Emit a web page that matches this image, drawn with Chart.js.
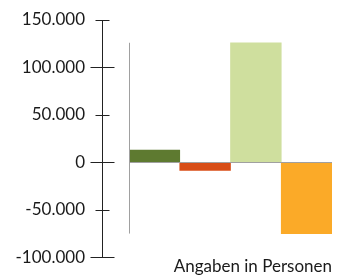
<!DOCTYPE html>
<html><head><meta charset="utf-8">
<script src="https://cdn.jsdelivr.net/npm/chart.js@4"></script>
<style>html,body{margin:0;padding:0;background:#fff}#w{width:338px;height:277px}</style>
</head><body><div id="w"><canvas id="c"></canvas></div>
<script>
const categories = ["A", "B", "C", "D"];
const values = [13000, -8500, 126000, -75000];
const barColors = ["#5e7a30", "#d84d16", "#cfdf9e", "#fbaa28"];
const yTicks = [-100000, -50000, 0, 50000, 100000, 150000];
const unitLabel = "Angaben in Personen";

const fmt = v => (v < 0 ? "-" : "") + String(Math.abs(v)).replace(/\B(?=(\d{3})+(?!\d))/g, ".");

const axisPlugin = {
  id: "axisPlugin",
  afterDatasetsDraw(chart) {
    const ctx = chart.ctx, y = chart.scales.y, a = chart.chartArea;
    ctx.save();
    ctx.strokeStyle = "#a0a0a0"; ctx.lineWidth = 1;
    const y0 = Math.round(y.getPixelForValue(0)) + 0.5;
    ctx.beginPath(); ctx.moveTo(a.left, y0); ctx.lineTo(a.right, y0); ctx.stroke();
    const xl = Math.round(a.left) + 0.5;
    ctx.beginPath();
    ctx.moveTo(xl, y.getPixelForValue(Math.max(...values)));
    ctx.lineTo(xl, y.getPixelForValue(Math.min(...values)));
    ctx.stroke();
    const ax = 102.5;
    ctx.strokeStyle = "#222";
    ctx.beginPath();
    ctx.moveTo(ax, Math.round(y.getPixelForValue(yTicks[yTicks.length-1])) + 0.5);
    ctx.lineTo(ax, Math.round(y.getPixelForValue(yTicks[0])) + 0.5);
    ctx.stroke();
    yTicks.forEach(t => {
      const py = Math.round(y.getPixelForValue(t)) + 0.5;
      const len = (t % 100000 === 0) ? 12 : 7;
      ctx.beginPath(); ctx.moveTo(ax - len, py); ctx.lineTo(ax + len, py); ctx.stroke();
    });
    ctx.restore();
  }
};

new Chart(document.getElementById("c"), {
  type: "bar",
  data: {
    labels: categories,
    datasets: [{ data: values, backgroundColor: barColors, borderWidth: 0,
      categoryPercentage: 1, barPercentage: 1 }]
  },
  options: {
    responsive: true, maintainAspectRatio: false, animation: false,
    layout: { padding: { left: 0, right: 6, top: 20, bottom: 0 } },
    plugins: {
      legend: { display: false }, tooltip: { enabled: false },
      title: { display: true, text: unitLabel, position: "bottom", align: "end",
        color: "#1a1a1a", font: { family: "Lato", size: 17, weight: "normal", lineHeight: 1.1 },
        padding: { top: 0, bottom: 1 } }
    },
    scales: {
      x: { display: false, offset: true },
      y: {
        min: -100000, max: 150000,
        afterBuildTicks: s => { s.ticks = yTicks.map(v => ({ value: v })); },
        afterFit: s => { s.width = 129; s.paddingTop = 0; s.paddingBottom = 0; },
        border: { display: false },
        grid: { display: false, drawTicks: false },
        ticks: { padding: 44, color: "#1a1a1a", font: { family: "Lato", size: 17 },
          callback: v => fmt(v) }
      }
    }
  },
  plugins: [axisPlugin]
});
</script></body></html>
